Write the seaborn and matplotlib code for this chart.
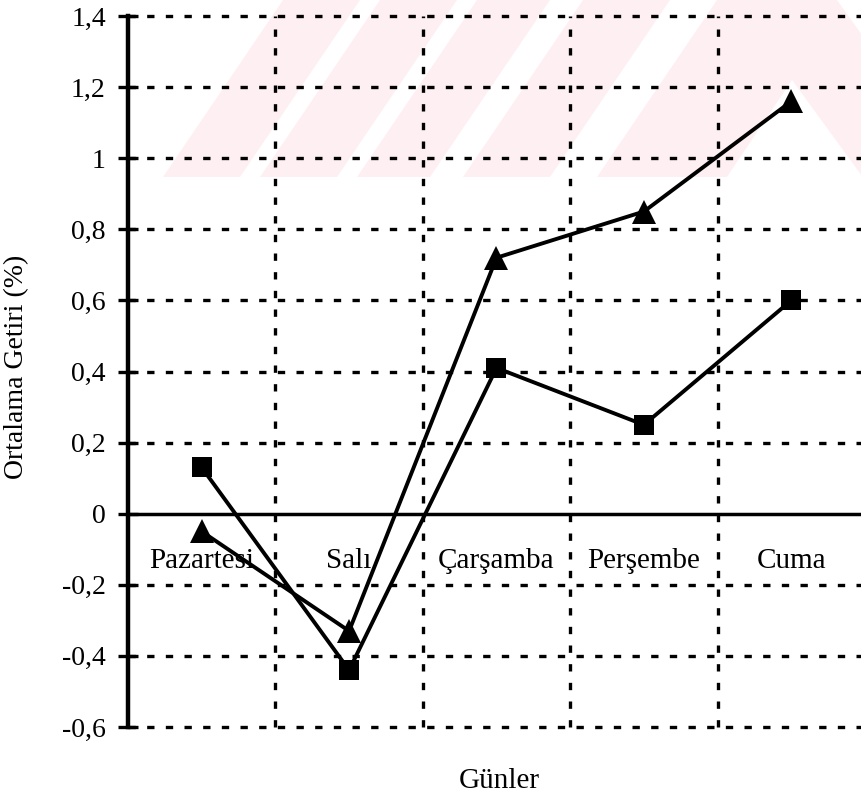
import pandas as pd
import seaborn as sns
import matplotlib.pyplot as plt
from matplotlib.patches import Polygon

# Günlere göre ortalama getiri (%)
days = ["Pazartesi", "Salı", "Çarşamba", "Perşembe", "Cuma"]
series_square = [0.13, -0.44, 0.41, 0.25, 0.60]
series_triangle = [-0.05, -0.33, 0.72, 0.85, 1.16]
y_ticks = [-0.6, -0.4, -0.2, 0.0, 0.2, 0.4, 0.6, 0.8, 1.0, 1.2, 1.4]
y_tick_labels = ["-0,6", "-0,4", "-0,2", "0", "0,2", "0,4", "0,6", "0,8", "1", "1,2", "1,4"]

sns.set_theme(style="white")
plt.rcParams["font.family"] = ["Liberation Serif", "DejaVu Serif"]

W, H = 862, 799
fig = plt.figure(figsize=(W / 100, H / 100), dpi=100)
fig.patch.set_facecolor("white")


def px(x, y):
    return (x / W, 1 - y / H)


# faint background emblem stripes
pink = "#fef0f2"
for a, b in [(163, 240), (260, 337), (357, 430), (463, 550)]:
    pts = [px(a, 177), px(b, 177), px(b + 120, 0), px(a + 120, 0)]
    fig.patches.append(Polygon(pts, closed=True, transform=fig.transFigure,
                               facecolor=pink, edgecolor="none", zorder=-5))
chev = [(597, 177), (727, 177), (792, 80), (862, 176), (862, 35), (837, 0), (717, 0)]
fig.patches.append(Polygon([px(*p) for p in chev], closed=True, transform=fig.transFigure,
                           facecolor=pink, edgecolor="none", zorder=-5))

left, right, top, bottom = 128, 865, 16, 727
ax = fig.add_axes([left / W, 1 - bottom / H, (right - left) / W, (bottom - top) / H])
ax.set_facecolor("none")

df_sq = pd.DataFrame({"Gün": days, "Getiri": series_square})
df_tr = pd.DataFrame({"Gün": days, "Getiri": series_triangle})

sns.lineplot(data=df_sq, x="Gün", y="Getiri", sort=False, color="black", lw=2.8,
             marker="s", markersize=14, markeredgewidth=0, ax=ax, zorder=4)
sns.lineplot(data=df_tr, x="Gün", y="Getiri", sort=False, color="black", lw=2.8,
             marker="^", markersize=17, markeredgewidth=0, ax=ax, zorder=4)

ax.set_xlim(-0.5, 4.5)
ax.set_ylim(-0.6, 1.4)

dot = (0, (2.2, 3.4))
for y in y_ticks:
    if y != 0:
        ax.axhline(y, color="black", lw=2.4, ls=dot, clip_on=False, zorder=1)
for x in [0.5, 1.5, 2.5, 3.5]:
    ax.axvline(x, color="black", lw=2.4, ls=dot, clip_on=False, zorder=1)
ax.axhline(0, color="black", lw=2.5, zorder=1.5)

for i, d in enumerate(days):
    ax.text(i, -0.152, d, ha="center", va="baseline", fontsize=21, color="black", zorder=2)

for s in ["top", "right", "bottom"]:
    ax.spines[s].set_visible(False)
ax.spines["left"].set_linewidth(3.2)
ax.spines["left"].set_color("black")

ax.set_xticks([])
ax.set_yticks(y_ticks, labels=y_tick_labels)
ax.tick_params(axis="y", direction="inout", length=14, width=2.4, pad=9,
               labelsize=20, colors="black", left=True)

ax.set_xlabel("Günler", fontsize=21, color="black")
ax.xaxis.set_label_coords((499 - left) / (right - left), (bottom - 768) / (bottom - top))
ax.set_ylabel("Ortalama Getiri (%)", fontsize=20, color="black")
ax.yaxis.set_label_coords((29 - left) / (right - left), (bottom - 367) / (bottom - top))

fig.savefig("out.png", dpi=100)
